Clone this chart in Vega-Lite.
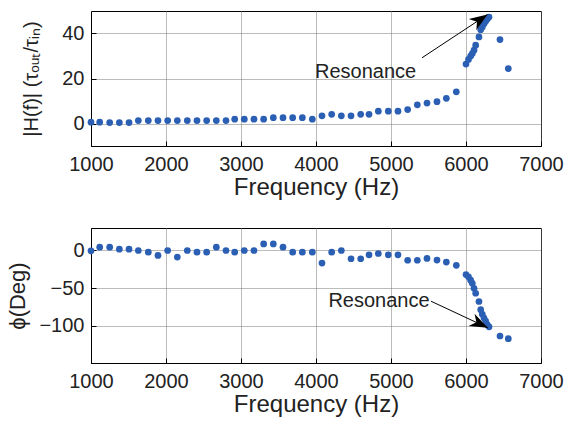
{
  "$schema": "https://vega.github.io/schema/vega-lite/v6.json",
  "background": "white",
  "padding": {"left": 6, "top": 10, "right": 10, "bottom": 5},
  "datasets": {
    "meas": [
      {"f": 1000, "mag": 0.6, "phase": -0.4},
      {"f": 1116, "mag": 0.6, "phase": 4.4},
      {"f": 1249, "mag": 0.4, "phase": 4.4},
      {"f": 1378, "mag": 0.4, "phase": 1.8},
      {"f": 1507, "mag": 0.4, "phase": 1.8},
      {"f": 1631, "mag": 1.3, "phase": 0},
      {"f": 1764, "mag": 1.3, "phase": -2.2},
      {"f": 1893, "mag": 1.3, "phase": -6.6},
      {"f": 2022, "mag": 1.3, "phase": 0},
      {"f": 2151, "mag": 1.3, "phase": -8.8},
      {"f": 2284, "mag": 1.3, "phase": 0},
      {"f": 2413, "mag": 1.3, "phase": -2.2},
      {"f": 2542, "mag": 1.3, "phase": -2.2},
      {"f": 2671, "mag": 1.3, "phase": 4.4},
      {"f": 2800, "mag": 1.3, "phase": 0},
      {"f": 2916, "mag": 1.9, "phase": -2.2},
      {"f": 3044, "mag": 1.9, "phase": 0},
      {"f": 3173, "mag": 1.9, "phase": 0},
      {"f": 3302, "mag": 1.9, "phase": 8.8},
      {"f": 3431, "mag": 2.6, "phase": 8.8},
      {"f": 3560, "mag": 2.6, "phase": 4.4},
      {"f": 3689, "mag": 2.6, "phase": -2.2},
      {"f": 3818, "mag": 2.6, "phase": -2.2},
      {"f": 3951, "mag": 1.9, "phase": -2.2},
      {"f": 4080, "mag": 3.4, "phase": -16.7},
      {"f": 4209, "mag": 4.1, "phase": -2.2},
      {"f": 4338, "mag": 3.4, "phase": 0},
      {"f": 4467, "mag": 3.4, "phase": -11},
      {"f": 4596, "mag": 4.1, "phase": -11},
      {"f": 4707, "mag": 4.1, "phase": -5.7},
      {"f": 4831, "mag": 5.5, "phase": -4},
      {"f": 4964, "mag": 5.5, "phase": -5.7},
      {"f": 5093, "mag": 5.5, "phase": -5.7},
      {"f": 5222, "mag": 6.2, "phase": -13},
      {"f": 5351, "mag": 8.3, "phase": -13},
      {"f": 5480, "mag": 9.1, "phase": -10.5},
      {"f": 5613, "mag": 9.7, "phase": -12.7},
      {"f": 5738, "mag": 11.2, "phase": -15.4},
      {"f": 5871, "mag": 14.1, "phase": -19.7},
      {"f": 6000, "mag": 26.4, "phase": -32},
      {"f": 6033, "mag": 28.5, "phase": -35},
      {"f": 6062, "mag": 30, "phase": -39.5},
      {"f": 6084, "mag": 31.1, "phase": -43.8},
      {"f": 6107, "mag": 32.6, "phase": -50.4},
      {"f": 6129, "mag": 34.8, "phase": -57},
      {"f": 6173, "mag": 38.5, "phase": -68},
      {"f": 6196, "mag": 41.7, "phase": -78.9},
      {"f": 6218, "mag": 42.9, "phase": -85},
      {"f": 6240, "mag": 44.3, "phase": -90},
      {"f": 6262, "mag": 45.5, "phase": -94},
      {"f": 6284, "mag": 46.5, "phase": -98.7},
      {"f": 6307, "mag": 47.3, "phase": -101.7},
      {"f": 6453, "mag": 37.3, "phase": -114},
      {"f": 6564, "mag": 24.4, "phase": -117.5}
    ],
    "notesMag": [
      {"label": "Resonance", "lx": 4662, "ly": 22.9, "fx": 5413, "fy": 29.2, "tx": 6286, "ty": 48.4}
    ],
    "notesPhase": [
      {"label": "Resonance", "lx": 4840, "ly": -67.7, "fx": 5533, "fy": -67.6, "tx": 6290, "ty": -103}
    ]
  },
  "config": {
    "view": {"stroke": "black", "strokeWidth": 1},
    "axis": {
      "domainColor": "black",
      "tickColor": "black",
      "tickSize": -5,
      "labelFont": "Liberation Sans",
      "labelFontSize": 20,
      "labelColor": "#222222",
      "labelFlush": false,
      "titleFont": "Liberation Sans",
      "titleFontSize": 24,
      "titleFontWeight": "normal",
      "titleColor": "#222222",
      "gridColor": "#777777",
      "gridDash": [1, 1],
      "gridOpacity": 1
    },
    "axisX": {"labelPadding": 13, "titlePadding": 1},
    "axisY": {"labelPadding": 12},
    "concat": {"spacing": 27}
  },
  "vconcat": [
    {
      "width": 450,
      "height": 135,
      "layer": [
        {
          "data": {"name": "meas"},
          "mark": {"type": "point", "filled": true, "size": 45, "color": "#2b5fb4", "opacity": 1, "strokeWidth": 0},
          "encoding": {
            "x": {"field": "f", "type": "quantitative", "scale": {"domain": [1000, 7000], "nice": false, "zero": false},
                  "axis": {"values": [1000, 2000, 3000, 4000, 5000, 6000, 7000], "format": "d", "title": "Frequency (Hz)", "grid": true}},
            "y": {"field": "mag", "type": "quantitative", "scale": {"domain": [-10, 50], "nice": false, "zero": false},
                  "axis": {"values": [0, 20, 40], "title": "|H(f)| (τₒᵤₜ/τᵢₙ)", "titleFontSize": 20, "titlePadding": 20, "grid": true}}
          }
        },
        {
          "data": {"name": "notesMag"},
          "mark": {"type": "rule", "color": "black", "strokeWidth": 1},
          "encoding": {
            "x": {"field": "fx", "type": "quantitative", "title": "Frequency (Hz)"},
            "x2": {"field": "tx"},
            "y": {"field": "fy", "type": "quantitative", "title": "|H(f)| (τₒᵤₜ/τᵢₙ)"},
            "y2": {"field": "ty"}
          }
        },
        {
          "data": {"name": "notesMag"},
          "mark": {"type": "point", "shape": "M0,0L0.75,2L0,1.4L-0.75,2Z", "filled": true, "color": "black", "opacity": 1, "size": 324, "angle": 56, "strokeWidth": 0},
          "encoding": {
            "x": {"field": "tx", "type": "quantitative", "title": "Frequency (Hz)"},
            "y": {"field": "ty", "type": "quantitative", "title": "|H(f)| (τₒᵤₜ/τᵢₙ)"}
          }
        },
        {
          "data": {"name": "notesMag"},
          "mark": {"type": "text", "font": "Liberation Sans", "fontSize": 20, "color": "#222222", "baseline": "middle", "align": "center"},
          "encoding": {
            "x": {"field": "lx", "type": "quantitative", "title": "Frequency (Hz)"},
            "y": {"field": "ly", "type": "quantitative", "title": "|H(f)| (τₒᵤₜ/τᵢₙ)"},
            "text": {"field": "label"}
          }
        }
      ]
    },
    {
      "width": 450,
      "height": 135,
      "layer": [
        {
          "data": {"name": "meas"},
          "mark": {"type": "point", "filled": true, "size": 45, "color": "#2b5fb4", "opacity": 1, "strokeWidth": 0},
          "encoding": {
            "x": {"field": "f", "type": "quantitative", "scale": {"domain": [1000, 7000], "nice": false, "zero": false},
                  "axis": {"values": [1000, 2000, 3000, 4000, 5000, 6000, 7000], "format": "d", "title": "Frequency (Hz)", "grid": true}},
            "y": {"field": "phase", "type": "quantitative", "scale": {"domain": [-150, 30], "nice": false, "zero": false},
                  "axis": {"values": [0, -50, -100], "title": "ϕ(Deg)", "titleFontSize": 22, "titlePadding": 9, "grid": true}}
          }
        },
        {
          "data": {"name": "notesPhase"},
          "mark": {"type": "rule", "color": "black", "strokeWidth": 1},
          "encoding": {
            "x": {"field": "fx", "type": "quantitative", "title": "Frequency (Hz)"},
            "x2": {"field": "tx"},
            "y": {"field": "fy", "type": "quantitative", "title": "ϕ(Deg)"},
            "y2": {"field": "ty"}
          }
        },
        {
          "data": {"name": "notesPhase"},
          "mark": {"type": "point", "shape": "M0,0L0.75,2L0,1.4L-0.75,2Z", "filled": true, "color": "black", "opacity": 1, "size": 324, "angle": 116, "strokeWidth": 0},
          "encoding": {
            "x": {"field": "tx", "type": "quantitative", "title": "Frequency (Hz)"},
            "y": {"field": "ty", "type": "quantitative", "title": "ϕ(Deg)"}
          }
        },
        {
          "data": {"name": "notesPhase"},
          "mark": {"type": "text", "font": "Liberation Sans", "fontSize": 20, "color": "#222222", "baseline": "middle", "align": "center"},
          "encoding": {
            "x": {"field": "lx", "type": "quantitative", "title": "Frequency (Hz)"},
            "y": {"field": "ly", "type": "quantitative", "title": "ϕ(Deg)"},
            "text": {"field": "label"}
          }
        }
      ]
    }
  ]
}
